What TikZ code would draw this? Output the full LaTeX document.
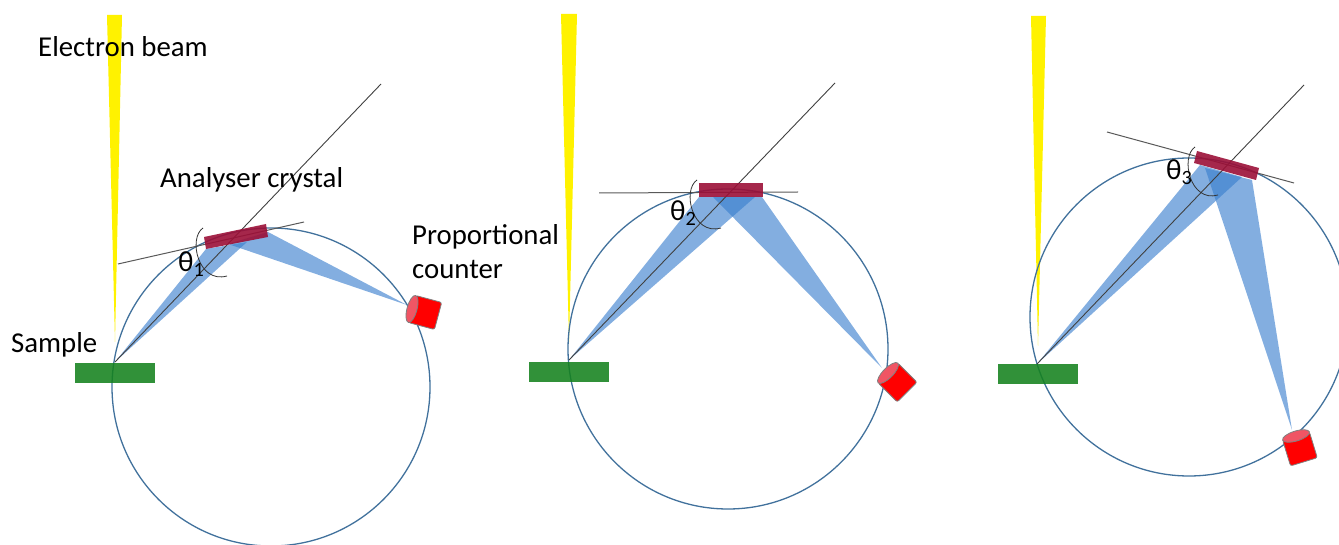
\documentclass[tikz,border=0pt]{standalone}
\usepackage{fontspec}
\setmainfont{Carlito}
\definecolor{circleblue}{RGB}{65,113,156}
\definecolor{beamblue}{RGB}{55,125,205}
\definecolor{crystalred}{RGB}{155,15,55}
\definecolor{samplegreen}{RGB}{20,130,30}
\definecolor{lidred}{RGB}{240,85,100}
\tikzset{
  label/.style={anchor=west,inner sep=0pt,align=left,font=\fontsize{28.8}{34}\selectfont},
  thetalabel/.style={anchor=west,inner sep=0pt,font=\fontsize{29}{30}\selectfont},
  beam/.style={fill=beamblue,fill opacity=.62},
  crystal/.style={fill=crystalred,fill opacity=.9},
  pics/detector/.style={code={
    \draw[draw=black!50,line width=.8pt,fill=red,rounded corners=2pt]
      (0,-14) -- (27,-14) -- (27,14) -- (0,14) -- cycle;
    \draw[draw=black!50,line width=.8pt,fill=lidred] (0,0) ellipse [x radius=5,y radius=14];
  }}
}
\begin{document}
\begin{tikzpicture}[x=1pt,y=-1pt]
\useasboundingbox (0,0) rectangle (1339,545);
  \coordinate (s1) at (115,362);
  \coordinate (s2) at (569,360);
  \coordinate (s3) at (1037,364);
  \coordinate (d1) at (381,84);
  \coordinate (d2) at (835,83);
  \coordinate (d3) at (1304,85);
  \coordinate (ta1) at (118,264);
  \coordinate (tb1) at (304,222);
  \coordinate (ta2) at (599,193);
  \coordinate (tb2) at (798,192);
  \coordinate (ta3) at (1107,132);
  \coordinate (tb3) at (1294,183);

  % yellow beams
  \fill[yellow] (107,15) -- (122,15) -- (115,342) -- cycle;
  \fill[yellow] (561,14) -- (577,14) -- (569,342) -- cycle;
  \fill[yellow] (1031,16) -- (1046,16) -- (1038,346) -- cycle;

  % rowland circles
  \draw[circleblue,line width=1.3pt] (271,387) circle (159);
  \draw[circleblue,line width=1.3pt] (728,349) circle (160);
  \draw[circleblue,line width=1.3pt] (1189,317) circle (159);

  % samples
  \fill[samplegreen,fill opacity=.88] (75,363) rectangle (155,383);
  \fill[samplegreen,fill opacity=.88] (529,362) rectangle (609,382);
  \fill[samplegreen,fill opacity=.88] (998,364) rectangle (1078,384);

  % x-rays
  \fill[beam] (s1) -- (206,249) -- (247,242) -- cycle;
  \fill[beam] (407,305) -- (228,244) -- (268,232) -- cycle;
  \fill[beam] (s2) -- (699,197) -- (755,197) -- cycle;
  \fill[beam] (882,368) -- (713,197) -- (762,197) -- cycle;
  \fill[beam] (s3) -- (1200,165) -- (1242,177) -- cycle;
  \fill[beam] (1292,430) -- (1205,168) -- (1252,180) -- cycle;

  \foreach \from/\to in {s1/d1, s2/d2, s3/d3}
    \draw[black!75,line width=.9pt] (\from) -- (\to);
  \foreach \from/\to in {ta1/tb1, ta2/tb2, ta3/tb3}
    \draw[black!65,line width=1pt] (\from) -- (\to);

  % crystals
  \fill[crystal] (204,237) -- (266,224) -- (268,237) -- (206,249) -- cycle;
  \fill[crystal] (699,183) -- (763,183) -- (763,197) -- (699,197) -- cycle;
  \fill[crystal] (1197,151) -- (1259,168) -- (1256,180) -- (1194,163) -- cycle;

  % angles
  \draw[black!80,line width=.8pt] (203,228) .. controls (188,238) and (198,284) .. (227,276);
  \draw[black!80,line width=.8pt] (697,180) .. controls (682,190) and (692,236) .. (721,228);
  \draw[black!80,line width=.8pt] (1195,147) .. controls (1180,157) and (1190,203) .. (1218,195);

  \pic[rotate=-15] (c1) at (412,309) {detector};
  \pic[rotate=-45] (c2) at (888,373) {detector};
  \pic[rotate=-73] (c3) at (1296,436) {detector};

  \node[label] (beamlabel) at (38,47) {Electron beam};
  \node[label] (crystallabel) at (160,180) {Analyser crystal};
  \node[label] (counterlabel) at (412,252) {Proportional\\counter};
  \node[label] (samplelabel) at (11,345) {Sample};
  \node[thetalabel] (theta1) at (178,264) {θ\textsubscript{1}};
  \node[thetalabel] (theta2) at (670,213) {θ\textsubscript{2}};
  \node[thetalabel] (theta3) at (1166,172) {θ\textsubscript{3}};
\end{tikzpicture}
\end{document}
